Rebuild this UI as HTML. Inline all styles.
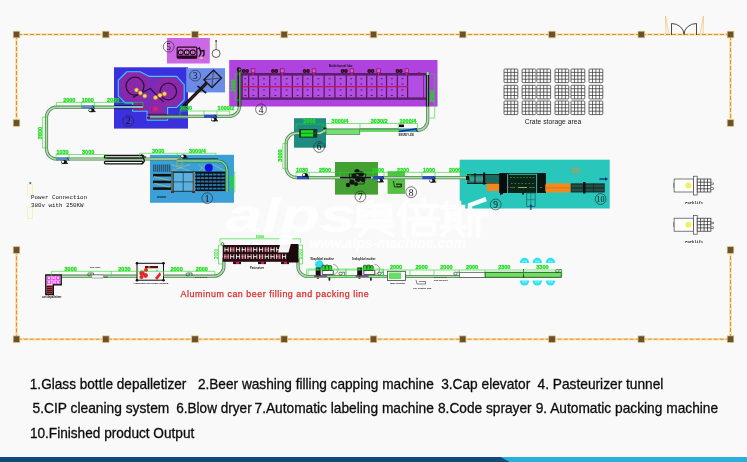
<!DOCTYPE html>
<html><head><meta charset="utf-8">
<style>
html,body{margin:0;padding:0;width:747px;height:462px;overflow:hidden;background:#f9f9f9;}
svg{position:absolute;left:0;top:0;will-change:transform;}
text{font-family:"Liberation Sans",sans-serif;}
.m{font-family:"Liberation Mono",monospace;}
</style></head><body>
<svg width="747" height="462" viewBox="0 0 747 462">
<rect x="0" y="0" width="747" height="462" fill="#f9f9f9"/>

<path d="M16.5,123 V34.5 H730.5 V123 M730.5,250 V339.2 H16.5 V250" fill="none" stroke="#fbe0a0" stroke-width="2.6"/>
<path d="M16.5,123 V34.5 H730.5 V123 M730.5,250 V339.2 H16.5 V250" fill="none" stroke="#c88848" stroke-width="0.9" stroke-dasharray="4 2"/>
<g fill="#6b5030" stroke="#e0c878" stroke-width="0.7">
<rect x="13.2" y="31.2" width="6.6" height="6.6"/>
<rect x="13.2" y="335.9" width="6.6" height="6.6"/>
<rect x="102.5" y="31.2" width="6.6" height="6.6"/>
<rect x="102.5" y="335.9" width="6.6" height="6.6"/>
<rect x="191.7" y="31.2" width="6.6" height="6.6"/>
<rect x="191.7" y="335.9" width="6.6" height="6.6"/>
<rect x="280.9" y="31.2" width="6.6" height="6.6"/>
<rect x="280.9" y="335.9" width="6.6" height="6.6"/>
<rect x="370.2" y="31.2" width="6.6" height="6.6"/>
<rect x="370.2" y="335.9" width="6.6" height="6.6"/>
<rect x="459.4" y="31.2" width="6.6" height="6.6"/>
<rect x="459.4" y="335.9" width="6.6" height="6.6"/>
<rect x="548.7" y="31.2" width="6.6" height="6.6"/>
<rect x="548.7" y="335.9" width="6.6" height="6.6"/>
<rect x="638.0" y="31.2" width="6.6" height="6.6"/>
<rect x="638.0" y="335.9" width="6.6" height="6.6"/>
<rect x="727.2" y="31.2" width="6.6" height="6.6"/>
<rect x="727.2" y="335.9" width="6.6" height="6.6"/>
<rect x="13.2" y="119.7" width="6.6" height="6.6"/>
<rect x="727.2" y="119.7" width="6.6" height="6.6"/>
<rect x="13.2" y="246.7" width="6.6" height="6.6"/>
<rect x="727.2" y="246.7" width="6.6" height="6.6"/>
</g>
<g fill="none" stroke-width="0.7">
<path d="M671.5,35 V23.5 A12.5,11 0 0 1 684,34.5 A12.5,11 0 0 1 696.5,23.5 V35" stroke="#333" stroke-width="0.9"/>
<path d="M666,34 L665.5,16 L669,34 M703,34 L703.5,16 L700,34" stroke="#f0c070"/>
</g>
<rect x="167" y="38" width="42.8" height="25.5" fill="#cc68e6"/>
<rect x="114" y="67.3" width="74" height="61.3" fill="#3b30de"/>
<rect x="186.2" y="68.2" width="38.8" height="24.2" fill="#6a8ce6"/>
<rect x="229.2" y="60" width="208.3" height="46.5" fill="#b042e0"/>
<rect x="150" y="154.8" width="84" height="48" fill="#3ca0d8"/>
<rect x="294" y="118.2" width="32" height="29.5" fill="#1e8c80"/>
<rect x="335" y="162" width="43" height="32.6" fill="#44a032"/>
<rect x="387.6" y="171.2" width="17.4" height="22.7" fill="#55c044"/>
<rect x="459.7" y="159.7" width="150" height="48.8" fill="#28c6bb"/>
<g>
<rect x="242" y="74.5" width="185.5" height="24" fill="#b24ee4"/>
<rect x="244.4" y="78.3" width="1.8" height="0.9" fill="#4a1050"/>
<rect x="244.4" y="83.6" width="1.8" height="0.9" fill="#4a1050"/>
<rect x="244.4" y="89.5" width="1.8" height="0.9" fill="#4a1050"/>
<rect x="244.4" y="95.0" width="1.8" height="0.9" fill="#4a1050"/>
<rect x="252.5" y="78.3" width="1.8" height="0.9" fill="#4a1050"/>
<rect x="252.5" y="83.6" width="1.8" height="0.9" fill="#4a1050"/>
<rect x="252.5" y="89.5" width="1.8" height="0.9" fill="#4a1050"/>
<rect x="252.5" y="95.0" width="1.8" height="0.9" fill="#4a1050"/>
<rect x="263.1" y="78.3" width="1.8" height="0.9" fill="#4a1050"/>
<rect x="263.1" y="83.6" width="1.8" height="0.9" fill="#4a1050"/>
<rect x="263.1" y="89.5" width="1.8" height="0.9" fill="#4a1050"/>
<rect x="263.1" y="95.0" width="1.8" height="0.9" fill="#4a1050"/>
<rect x="274.5" y="78.3" width="1.8" height="0.9" fill="#4a1050"/>
<rect x="274.5" y="83.6" width="1.8" height="0.9" fill="#4a1050"/>
<rect x="274.5" y="89.5" width="1.8" height="0.9" fill="#4a1050"/>
<rect x="274.5" y="95.0" width="1.8" height="0.9" fill="#4a1050"/>
<rect x="285.8" y="78.3" width="1.8" height="0.9" fill="#4a1050"/>
<rect x="285.8" y="83.6" width="1.8" height="0.9" fill="#4a1050"/>
<rect x="285.8" y="89.5" width="1.8" height="0.9" fill="#4a1050"/>
<rect x="285.8" y="95.0" width="1.8" height="0.9" fill="#4a1050"/>
<rect x="296.6" y="78.3" width="1.8" height="0.9" fill="#4a1050"/>
<rect x="296.6" y="83.6" width="1.8" height="0.9" fill="#4a1050"/>
<rect x="296.6" y="89.5" width="1.8" height="0.9" fill="#4a1050"/>
<rect x="296.6" y="95.0" width="1.8" height="0.9" fill="#4a1050"/>
<rect x="306.8" y="78.3" width="1.8" height="0.9" fill="#4a1050"/>
<rect x="306.8" y="83.6" width="1.8" height="0.9" fill="#4a1050"/>
<rect x="306.8" y="89.5" width="1.8" height="0.9" fill="#4a1050"/>
<rect x="306.8" y="95.0" width="1.8" height="0.9" fill="#4a1050"/>
<rect x="317.5" y="78.3" width="1.8" height="0.9" fill="#4a1050"/>
<rect x="317.5" y="83.6" width="1.8" height="0.9" fill="#4a1050"/>
<rect x="317.5" y="89.5" width="1.8" height="0.9" fill="#4a1050"/>
<rect x="317.5" y="95.0" width="1.8" height="0.9" fill="#4a1050"/>
<rect x="328.6" y="78.3" width="1.8" height="0.9" fill="#4a1050"/>
<rect x="328.6" y="83.6" width="1.8" height="0.9" fill="#4a1050"/>
<rect x="328.6" y="89.5" width="1.8" height="0.9" fill="#4a1050"/>
<rect x="328.6" y="95.0" width="1.8" height="0.9" fill="#4a1050"/>
<rect x="339.7" y="78.3" width="1.8" height="0.9" fill="#4a1050"/>
<rect x="339.7" y="83.6" width="1.8" height="0.9" fill="#4a1050"/>
<rect x="339.7" y="89.5" width="1.8" height="0.9" fill="#4a1050"/>
<rect x="339.7" y="95.0" width="1.8" height="0.9" fill="#4a1050"/>
<rect x="350.2" y="78.3" width="1.8" height="0.9" fill="#4a1050"/>
<rect x="350.2" y="83.6" width="1.8" height="0.9" fill="#4a1050"/>
<rect x="350.2" y="89.5" width="1.8" height="0.9" fill="#4a1050"/>
<rect x="350.2" y="95.0" width="1.8" height="0.9" fill="#4a1050"/>
<rect x="360.5" y="78.3" width="1.8" height="0.9" fill="#4a1050"/>
<rect x="360.5" y="83.6" width="1.8" height="0.9" fill="#4a1050"/>
<rect x="360.5" y="89.5" width="1.8" height="0.9" fill="#4a1050"/>
<rect x="360.5" y="95.0" width="1.8" height="0.9" fill="#4a1050"/>
<rect x="370.9" y="78.3" width="1.8" height="0.9" fill="#4a1050"/>
<rect x="370.9" y="83.6" width="1.8" height="0.9" fill="#4a1050"/>
<rect x="370.9" y="89.5" width="1.8" height="0.9" fill="#4a1050"/>
<rect x="370.9" y="95.0" width="1.8" height="0.9" fill="#4a1050"/>
<rect x="380.8" y="78.3" width="1.8" height="0.9" fill="#4a1050"/>
<rect x="380.8" y="83.6" width="1.8" height="0.9" fill="#4a1050"/>
<rect x="380.8" y="89.5" width="1.8" height="0.9" fill="#4a1050"/>
<rect x="380.8" y="95.0" width="1.8" height="0.9" fill="#4a1050"/>
<rect x="391.0" y="78.3" width="1.8" height="0.9" fill="#4a1050"/>
<rect x="391.0" y="83.6" width="1.8" height="0.9" fill="#4a1050"/>
<rect x="391.0" y="89.5" width="1.8" height="0.9" fill="#4a1050"/>
<rect x="391.0" y="95.0" width="1.8" height="0.9" fill="#4a1050"/>
<rect x="401.6" y="78.3" width="1.8" height="0.9" fill="#4a1050"/>
<rect x="401.6" y="83.6" width="1.8" height="0.9" fill="#4a1050"/>
<rect x="401.6" y="89.5" width="1.8" height="0.9" fill="#4a1050"/>
<rect x="401.6" y="95.0" width="1.8" height="0.9" fill="#4a1050"/>
<rect x="241.5" y="74" width="1.2" height="25" fill="#5a1452"/>
<rect x="248.0" y="74" width="1.2" height="25" fill="#5a1452"/>
<rect x="257.7" y="74" width="1.2" height="25" fill="#5a1452"/>
<rect x="269.1" y="74" width="1.2" height="25" fill="#5a1452"/>
<rect x="280.4" y="74" width="1.2" height="25" fill="#5a1452"/>
<rect x="291.8" y="74" width="1.2" height="25" fill="#5a1452"/>
<rect x="302.1" y="74" width="1.2" height="25" fill="#5a1452"/>
<rect x="312.1" y="74" width="1.2" height="25" fill="#5a1452"/>
<rect x="323.5" y="74" width="1.2" height="25" fill="#5a1452"/>
<rect x="334.3" y="74" width="1.2" height="25" fill="#5a1452"/>
<rect x="345.7" y="74" width="1.2" height="25" fill="#5a1452"/>
<rect x="355.4" y="74" width="1.2" height="25" fill="#5a1452"/>
<rect x="366.1" y="74" width="1.2" height="25" fill="#5a1452"/>
<rect x="376.2" y="74" width="1.2" height="25" fill="#5a1452"/>
<rect x="385.9" y="74" width="1.2" height="25" fill="#5a1452"/>
<rect x="396.7" y="74" width="1.2" height="25" fill="#5a1452"/>
<rect x="407.0" y="74" width="1.2" height="25" fill="#5a1452"/>
<rect x="423" y="74" width="0.6" height="25" fill="#5a1858"/>
<rect x="242" y="86" width="166" height="1.3" fill="#b81860"/>
<rect x="237.5" y="73" width="190.5" height="2.6" fill="#5c1e6c"/>
<rect x="237.5" y="97.4" width="190.5" height="2.4" fill="#5c1e6c"/>
<rect x="426.2" y="73.5" width="2" height="26" fill="#1a1a1a"/>
<circle cx="243.7" cy="71" r="1.9" fill="#2a0818"/><circle cx="247.1" cy="71" r="1.9" fill="#2a0818"/>
<circle cx="243.7" cy="71" r="0.6" fill="#b03060"/><circle cx="247.1" cy="71" r="0.6" fill="#b03060"/>
<rect x="251.3" y="68.8" width="3.6" height="4" fill="#d060c8" stroke="#8a1060" stroke-width="0.7"/>
<rect x="252.7" y="72.5" width="0.8" height="3" fill="#e0307a"/>
<circle cx="272.9" cy="71" r="1.9" fill="#2a0818"/><circle cx="276.3" cy="71" r="1.9" fill="#2a0818"/>
<circle cx="272.9" cy="71" r="0.6" fill="#b03060"/><circle cx="276.3" cy="71" r="0.6" fill="#b03060"/>
<rect x="280.5" y="68.8" width="3.6" height="4" fill="#d060c8" stroke="#8a1060" stroke-width="0.7"/>
<rect x="281.9" y="72.5" width="0.8" height="3" fill="#e0307a"/>
<circle cx="304.6" cy="71" r="1.9" fill="#2a0818"/><circle cx="308.0" cy="71" r="1.9" fill="#2a0818"/>
<circle cx="304.6" cy="71" r="0.6" fill="#b03060"/><circle cx="308.0" cy="71" r="0.6" fill="#b03060"/>
<rect x="312.2" y="68.8" width="3.6" height="4" fill="#d060c8" stroke="#8a1060" stroke-width="0.7"/>
<rect x="313.6" y="72.5" width="0.8" height="3" fill="#e0307a"/>
<circle cx="342.5" cy="71" r="1.9" fill="#2a0818"/><circle cx="345.9" cy="71" r="1.9" fill="#2a0818"/>
<circle cx="342.5" cy="71" r="0.6" fill="#b03060"/><circle cx="345.9" cy="71" r="0.6" fill="#b03060"/>
<rect x="350.1" y="68.8" width="3.6" height="4" fill="#d060c8" stroke="#8a1060" stroke-width="0.7"/>
<rect x="351.5" y="72.5" width="0.8" height="3" fill="#e0307a"/>
<circle cx="369.2" cy="71" r="1.9" fill="#2a0818"/><circle cx="372.6" cy="71" r="1.9" fill="#2a0818"/>
<circle cx="369.2" cy="71" r="0.6" fill="#b03060"/><circle cx="372.6" cy="71" r="0.6" fill="#b03060"/>
<rect x="376.8" y="68.8" width="3.6" height="4" fill="#d060c8" stroke="#8a1060" stroke-width="0.7"/>
<rect x="378.2" y="72.5" width="0.8" height="3" fill="#e0307a"/>
<circle cx="397.4" cy="71" r="1.9" fill="#2a0818"/><circle cx="400.8" cy="71" r="1.9" fill="#2a0818"/>
<circle cx="397.4" cy="71" r="0.6" fill="#b03060"/><circle cx="400.8" cy="71" r="0.6" fill="#b03060"/>
<rect x="405.0" y="68.8" width="3.6" height="4" fill="#d060c8" stroke="#8a1060" stroke-width="0.7"/>
<rect x="406.4" y="72.5" width="0.8" height="3" fill="#e0307a"/>
<ellipse cx="419" cy="73" rx="1.5" ry="0.8" fill="#8a1a40"/>
<text x="329" y="66.5" font-size="2.8" font-weight="bold" fill="#111">Bottle/tunnel lube</text>
</g>
<polygon points="118.3,80.2 126.7,71.8 140.3,71.8 149.4,76.4 176.7,76.4 184.2,84.7 184.2,99.9 176.7,107.5 167.6,107.5 167.6,120.3 147.1,120.3 147.1,111.2 132.7,111.2 132.7,102.9 125.2,102.9 118.3,96.1" fill="#7a2cb8" stroke="#38d0ff" stroke-width="1.1"/>
<g fill="none" stroke="#c81c70" stroke-width="0.9" opacity="0.9">
<circle cx="135" cy="86.2" r="4"/>
<circle cx="168.3" cy="91.5" r="4"/>
<circle cx="135" cy="86.2" r="7"/>
<circle cx="168.3" cy="91.5" r="7"/>
<circle cx="135" cy="86.2" r="10"/>
<circle cx="168.3" cy="91.5" r="10"/>
<circle cx="135" cy="86.2" r="13"/>
<circle cx="168.3" cy="91.5" r="13"/>
<circle cx="155.5" cy="109" r="3"/><circle cx="155.5" cy="109" r="6"/>
</g>
<circle cx="155.5" cy="109" r="2.2" fill="#e0206a"/>
<circle cx="135" cy="86.2" r="9" fill="none" stroke="#141450" stroke-width="1.2"/>
<circle cx="168.3" cy="91.5" r="8.3" fill="none" stroke="#141450" stroke-width="1.2"/>
<path d="M132.7,97.6 L150.2,88.5 L163.8,102.2" fill="none" stroke="#141450" stroke-width="1.1"/>
<g fill="#f0d870" stroke="#d07020" stroke-width="0.6">
<circle cx="136.5" cy="90.0" r="2.1"/>
<circle cx="140.3" cy="93.0" r="2.1"/>
<circle cx="144.8" cy="96.0" r="2.1"/>
<circle cx="155.5" cy="97.6" r="2.1"/>
<circle cx="160.0" cy="95.3" r="2.1"/>
<circle cx="164.5" cy="93.8" r="2.1"/>
</g>
<rect x="147" y="117" width="21" height="1.8" fill="#5a1a60"/>
<path d="M143,107.2 H56.5 A10,10 0 0 0 46.5,117.2 V149 A10,10 0 0 0 56.5,159 H178" fill="none" stroke="#4a844a" stroke-width="3.2"/>
<path d="M143,107.2 H56.5 A10,10 0 0 0 46.5,117.2 V149 A10,10 0 0 0 56.5,159 H178" fill="none" stroke="#b4dab4" stroke-width="1.6"/>
<path d="M150,116.4 H229.4 A10,10 0 0 0 239.4,106.4 V72" fill="none" stroke="#4a844a" stroke-width="3.2"/>
<path d="M150,116.4 H229.4 A10,10 0 0 0 239.4,106.4 V72" fill="none" stroke="#b4dab4" stroke-width="1.6"/>
<path d="M427.7,72 V120.3 A10,10 0 0 1 417.7,130.3 H326 L320,133.2 H296.2 A10,10 0 0 0 286.2,143.2 V167.6 A10,10 0 0 0 296.2,177.6 H500" fill="none" stroke="#4a844a" stroke-width="3.2"/>
<path d="M427.7,72 V120.3 A10,10 0 0 1 417.7,130.3 H326 L320,133.2 H296.2 A10,10 0 0 0 286.2,143.2 V167.6 A10,10 0 0 0 296.2,177.6 H500" fill="none" stroke="#b4dab4" stroke-width="1.6"/>
<path d="M61.5,276.2 H213.9 A10,10 0 0 0 223.9,266.2 V258" fill="none" stroke="#4a844a" stroke-width="3.2"/>
<path d="M61.5,276.2 H213.9 A10,10 0 0 0 223.9,266.2 V258" fill="none" stroke="#b4dab4" stroke-width="1.6"/>
<path d="M298,258 V266.5 A10,10 0 0 0 308,276.5 H485" fill="none" stroke="#4a844a" stroke-width="3.2"/>
<path d="M298,258 V266.5 A10,10 0 0 0 308,276.5 H485" fill="none" stroke="#b4dab4" stroke-width="1.6"/>
<path d="M239.4,69 V106.5" stroke="#142414" stroke-width="3.8"/>
<path d="M239.9,69 V106.5" stroke="#8ad08a" stroke-width="1.1"/>
<circle cx="239" cy="69.5" r="2.2" fill="#111"/><circle cx="239.6" cy="69.5" r="1" fill="#6a9a6a"/>
<path d="M427.5,75 V106.5" stroke="#142414" stroke-width="3.2"/>
<path d="M427.5,75 V106.5" stroke="#6a9a7a" stroke-width="1"/>
<rect x="114" y="105.3" width="29" height="3.6" fill="#8ab8c8"/>
<path d="M114,105.5 H133 M114,108.7 H133" stroke="#101860" stroke-width="1"/>
<path d="M133,105.5 H143 M133,108.7 H143" stroke="#6a1040" stroke-width="1"/>
<path d="M139,108.7 H144" stroke="#e01030" stroke-width="1.3"/>
<rect x="150" y="114.7" width="38" height="3.4" fill="#8ab8a8"/>
<path d="M150,115 H188" stroke="#101860" stroke-width="1"/>
<path d="M150,118 H188" stroke="#3a7a5a" stroke-width="0.9"/>
<path d="M147.5,114.5 H167" stroke="#5a1a60" stroke-width="1.5"/>
<rect x="485" y="272.3" width="76.3" height="5" fill="#70e060" stroke="#204a20" stroke-width="0.9"/>
<rect x="81.4" y="105.5" width="13.1" height="3.2" fill="#5a88c0"/>
<path d="M92.5,105.5 L94.5,108.7" stroke="#101850" stroke-width="0.8"/>
<g><ellipse cx="91.5" cy="110.3" rx="3" ry="2" fill="#111"/><ellipse cx="90.3" cy="110.1" rx="1.3" ry="1.2" fill="#f9f9f9"/><rect x="93.5" y="111.1" width="2" height="1" fill="#111"/></g>
<rect x="56.0" y="157.4" width="13.0" height="3.2" fill="#5a88c0"/>
<path d="M67.0,157.4 L69.0,160.6" stroke="#101850" stroke-width="0.8"/>
<g><ellipse cx="64.0" cy="162.0" rx="3" ry="2" fill="#111"/><ellipse cx="62.8" cy="161.8" rx="1.3" ry="1.2" fill="#f9f9f9"/><rect x="66.0" y="162.8" width="2" height="1" fill="#111"/></g>
<rect x="204.0" y="114.7" width="13.0" height="3.2" fill="#3050c0"/>
<path d="M215.0,114.7 L217.0,117.9" stroke="#101850" stroke-width="0.8"/>
<g><ellipse cx="214.0" cy="119.5" rx="3" ry="2" fill="#111"/><ellipse cx="212.8" cy="119.3" rx="1.3" ry="1.2" fill="#f9f9f9"/><rect x="216.0" y="120.3" width="2" height="1" fill="#111"/></g>
<rect x="398.4" y="128.6" width="19.2" height="3.4" fill="#3aa0a0"/>
<path d="M415.6,128.6 L417.6,132.0" stroke="#101850" stroke-width="0.8"/>
<path d="M399,131.5 L417,128.8" stroke="#1830a0" stroke-width="1.6"/>
<rect x="399" y="124.5" width="5" height="2.6" fill="#111"/>
<text x="398.5" y="135.8" font-size="2.6" font-weight="bold" fill="#111">SW-RDY-350</text>
<rect x="297.0" y="176.0" width="11.8" height="3.2" fill="#3050c0"/>
<path d="M306.8,176.0 L308.8,179.2" stroke="#101850" stroke-width="0.8"/>
<g><ellipse cx="305.0" cy="175.0" rx="3" ry="2" fill="#111"/><ellipse cx="303.8" cy="174.8" rx="1.3" ry="1.2" fill="#f9f9f9"/><rect x="307.0" y="175.8" width="2" height="1" fill="#111"/></g>
<rect x="372.8" y="176.0" width="11.2" height="3.2" fill="#2a50c0"/>
<path d="M382.0,176.0 L384.0,179.2" stroke="#101850" stroke-width="0.8"/>
<g><ellipse cx="380.0" cy="180.5" rx="3" ry="2" fill="#111"/><ellipse cx="378.8" cy="180.3" rx="1.3" ry="1.2" fill="#f9f9f9"/><rect x="382.0" y="181.3" width="2" height="1" fill="#111"/></g>
<rect x="422.3" y="176.0" width="13.2" height="3.2" fill="#3050c0"/>
<path d="M433.5,176.0 L435.5,179.2" stroke="#101850" stroke-width="0.8"/>
<g><ellipse cx="432.3" cy="180.7" rx="3" ry="2" fill="#111"/><ellipse cx="431.1" cy="180.5" rx="1.3" ry="1.2" fill="#f9f9f9"/><rect x="434.3" y="181.5" width="2" height="1" fill="#111"/></g>
<g><ellipse cx="183.5" cy="156.5" rx="3" ry="2" fill="#111"/><ellipse cx="182.3" cy="156.3" rx="1.3" ry="1.2" fill="#f9f9f9"/><rect x="185.5" y="157.3" width="2" height="1" fill="#111"/></g>
<rect x="104.4" y="155.5" width="38.5" height="2.5" rx="1.2" fill="#fff" stroke="#111" stroke-width="1.3"/>
<rect x="104.4" y="161.3" width="38.5" height="2.5" rx="1.2" fill="#fff" stroke="#111" stroke-width="1.3"/>
<path d="M141,155 Q145.5,155.5 143.5,158.8 Q146,161 141.5,164.2" fill="none" stroke="#111" stroke-width="1.3"/>
<circle cx="145.5" cy="157" r="0.7" fill="#111"/>
<rect x="299.1" y="129" width="18.2" height="8.7" fill="#0e3a30" />
<rect x="301" y="130.2" width="12.1" height="6.4" fill="#22dd22"/>
<rect x="301" y="132.8" width="15" height="0.8" fill="#117711"/>
<rect x="326" y="129" width="33.8" height="5.3" fill="#72e072" stroke="#2f6a2f" stroke-width="0.6"/>
<rect x="359.8" y="129" width="38.6" height="3" fill="#66dd66"/><path d="M359.8,128.9 H398.4" stroke="#2a5a2a" stroke-width="0.8"/>
<rect x="323" y="127.5" width="3.5" height="1.5" fill="#111"/>
<path d="M340,177.6 H371" stroke="#111" stroke-width="1.6"/>
<path d="M349,174 L366,174 L364,184 L351,184 Z" fill="none" stroke="#111" stroke-width="0.7"/>
<g fill="#111">
<circle cx="357.0" cy="171.5" r="2.6"/>
<circle cx="361.0" cy="174.0" r="2.8"/>
<circle cx="354.0" cy="176.0" r="2.6"/>
<circle cx="358.0" cy="179.0" r="3.0"/>
<circle cx="352.0" cy="182.0" r="2.6"/>
<circle cx="348.0" cy="185.0" r="2.2"/>
<circle cx="363.0" cy="180.0" r="2.2"/>
<circle cx="356.0" cy="184.0" r="2.0"/>
</g>
<path d="M393.5,181 L394.5,187 L401.5,187 V184 H396" fill="none" stroke="#111" stroke-width="0.8"/>
<rect x="397" y="184.5" width="3.5" height="2" fill="none" stroke="#111" stroke-width="0.5"/>
<rect x="153" y="164.5" width="18" height="7.3" fill="#3a90c0"/>
<rect x="153.5" y="164.5" width="0.6" height="7.3" fill="#123"/>
<rect x="155.5" y="164.5" width="0.6" height="7.3" fill="#123"/>
<rect x="157.5" y="164.5" width="0.6" height="7.3" fill="#123"/>
<rect x="159.5" y="164.5" width="0.6" height="7.3" fill="#123"/>
<rect x="161.5" y="164.5" width="0.6" height="7.3" fill="#123"/>
<rect x="163.5" y="164.5" width="0.6" height="7.3" fill="#123"/>
<rect x="165.5" y="164.5" width="0.6" height="7.3" fill="#123"/>
<rect x="167.5" y="164.5" width="0.6" height="7.3" fill="#123"/>
<rect x="169.5" y="164.5" width="0.6" height="7.3" fill="#123"/>
<rect x="153" y="173.9" width="18.2" height="2.6" fill="#111"/>
<rect x="153" y="180.6" width="18.2" height="2.6" fill="#111"/>
<rect x="153" y="187.3" width="18.2" height="2.6" fill="#111"/>
<path d="M154,176.5 L170,180.6 M154,183.2 L170,187.3" stroke="#d8d860" stroke-width="0.5"/>
<rect x="173.2" y="172.5" width="20.1" height="18.8" fill="#5ab0e0" stroke="#1a3a40" stroke-width="1"/>
<path d="M183.2,172.5 V191.3 M173.2,181.9 H193.3" stroke="#1a3a40" stroke-width="0.7"/>
<path d="M172,170.5 V192 M193.5,170.5 V192" stroke="#805020" stroke-width="1.1"/>
<rect x="171" y="191" width="3" height="2" fill="#702020"/><rect x="192" y="191" width="3" height="2" fill="#702020"/>
<rect x="195.3" y="171.8" width="30.2" height="18.8" fill="#2a78a8"/>
<rect x="195.3" y="172.0" width="30.2" height="1.6" fill="#0a0a10"/>
<rect x="195.3" y="175.5" width="30.2" height="1.6" fill="#0a0a10"/>
<rect x="195.3" y="179.0" width="30.2" height="1.6" fill="#0a0a10"/>
<rect x="195.3" y="182.5" width="30.2" height="1.6" fill="#0a0a10"/>
<rect x="195.3" y="186.0" width="30.2" height="1.6" fill="#0a0a10"/>
<rect x="195.3" y="189.5" width="30.2" height="1.6" fill="#0a0a10"/>
<rect x="196.0" y="171.8" width="0.7" height="18.8" fill="#0a1018"/>
<rect x="200.1" y="171.8" width="0.7" height="18.8" fill="#0a1018"/>
<rect x="204.2" y="171.8" width="0.7" height="18.8" fill="#0a1018"/>
<rect x="208.3" y="171.8" width="0.7" height="18.8" fill="#0a1018"/>
<rect x="212.4" y="171.8" width="0.7" height="18.8" fill="#0a1018"/>
<rect x="216.5" y="171.8" width="0.7" height="18.8" fill="#0a1018"/>
<rect x="220.6" y="171.8" width="0.7" height="18.8" fill="#0a1018"/>
<rect x="224.7" y="171.8" width="0.7" height="18.8" fill="#0a1018"/>
<path d="M226,172 V192" stroke="#2a8a3a" stroke-width="1.2"/>
<path d="M171,164.5 L190,171 M171,171 L190,164.5 M199,164.5 L205,171 M199,171 L205,164.5 M213,164.5 L225,171" stroke="#c8d070" stroke-width="0.5"/>
<path d="M171,171.5 H227" stroke="#1a3a40" stroke-width="0.6"/>
<path d="M177,158.6 H218" stroke="#1a3a2a" stroke-width="0.8"/>
<path d="M177,161 H218 A9,9 0 0 1 227,170 V192" fill="none" stroke="#2a7a4a" stroke-width="3"/>
<path d="M177,161 H218 A9,9 0 0 1 227,170 V192" fill="none" stroke="#8ad8a0" stroke-width="1.4"/>
<rect x="177" y="158.5" width="5" height="7.5" fill="none" stroke="#c0b050" stroke-width="0.7"/>
<circle cx="208.8" cy="167.8" r="4" fill="#1010e0"/>
<path d="M157,197 H166" stroke="#111" stroke-width="0.9"/>
<rect x="177.2" y="47.2" width="19.6" height="10.9" rx="1" fill="none" stroke="#2a0520" stroke-width="1.2"/>
<rect x="177.2" y="55.5" width="19.6" height="2.8" fill="#2a0520"/>
<circle cx="180.8" cy="52.3" r="2.4" fill="#e8b8e8" stroke="#1a0010" stroke-width="1.1"/>
<rect x="180.4" y="51" width="0.9" height="3" fill="#8a0a30"/>
<circle cx="186.8" cy="52.3" r="2.4" fill="#e8b8e8" stroke="#1a0010" stroke-width="1.1"/>
<rect x="186.4" y="51" width="0.9" height="3" fill="#8a0a30"/>
<circle cx="192.8" cy="52.3" r="2.4" fill="#e8b8e8" stroke="#1a0010" stroke-width="1.1"/>
<rect x="192.4" y="51" width="0.9" height="3" fill="#8a0a30"/>
<path d="M197.5,49 L199.5,48 L201,53 L199,57 M200,51 L204,50.5 L204,55 L201,58" fill="none" stroke="#111" stroke-width="1.3"/>
<rect x="199.5" y="56.5" width="3.5" height="2.5" fill="#f0a0a0"/>
<path d="M216.1,40.7 V49.5" stroke="#444" stroke-width="0.7"/><circle cx="216.1" cy="41" r="0.9" fill="#444"/>
<circle cx="216.1" cy="53.5" r="4" fill="none" stroke="#333" stroke-width="0.8"/>
<path d="M184.3,105.4 L213,76.7" stroke="#111" stroke-width="3.2" stroke-linecap="round"/>
<path d="M185.5,104.2 L212,77.7" stroke="#7a2a2a" stroke-width="0.8"/>
<g transform="translate(212.7,78.9) rotate(-45)"><rect x="-6.8" y="-5.6" width="13.6" height="11.2" fill="#6a8ce6" stroke="#111" stroke-width="1.3"/><path d="M-6.8,-5.6 L6.8,5.6 M-6.8,5.6 L6.8,-5.6" stroke="#222" stroke-width="0.6"/><path d="M-6.8,0 L6.8,0" stroke="#e05080" stroke-width="0.5"/></g>
<path d="M197.5,86 L206.2,93.2" stroke="#111" stroke-width="1.6"/>
<g fill="none" stroke="#222" stroke-width="0.6">
<circle cx="207.2" cy="198.2" r="5.4"/>
<circle cx="128.2" cy="121.0" r="5.4"/>
<circle cx="195.2" cy="75.6" r="5.4"/>
<circle cx="261.0" cy="109.3" r="5.4"/>
<circle cx="168.7" cy="46.7" r="5.4"/>
<circle cx="319.1" cy="147.0" r="5.4"/>
<circle cx="360.4" cy="196.5" r="5.4"/>
<circle cx="411.2" cy="192.2" r="5.4"/>
<circle cx="495.7" cy="204.5" r="5.4"/>
<circle cx="600.6" cy="199.0" r="5.4"/>
</g>
<g fill="#111" font-family="Liberation Serif,serif" text-anchor="middle">
<text x="207.2" y="201.5" font-size="9.5" style="font-family:'Liberation Serif',serif">1</text>
<text x="128.2" y="124.3" font-size="9.5" style="font-family:'Liberation Serif',serif">2</text>
<text x="195.2" y="78.9" font-size="9.5" style="font-family:'Liberation Serif',serif">3</text>
<text x="261.0" y="112.6" font-size="9.5" style="font-family:'Liberation Serif',serif">4</text>
<text x="168.7" y="50.0" font-size="9.5" style="font-family:'Liberation Serif',serif">5</text>
<text x="319.1" y="150.3" font-size="9.5" style="font-family:'Liberation Serif',serif">6</text>
<text x="360.4" y="199.8" font-size="9.5" style="font-family:'Liberation Serif',serif">7</text>
<text x="411.2" y="195.5" font-size="9.5" style="font-family:'Liberation Serif',serif">8</text>
<text x="495.7" y="207.8" font-size="9.5" style="font-family:'Liberation Serif',serif">9</text>
<text x="600.6" y="202.0" font-size="8.5" textLength="8" lengthAdjust="spacingAndGlyphs" style="font-family:'Liberation Serif',serif">10</text>
</g>
<rect x="467" y="174.5" width="35" height="9" fill="#1a6a60"/>
<rect x="470" y="176.5" width="14" height="5" fill="#3a9a90"/>
<path d="M467,174.5 H502 M467,183.5 H502" stroke="#111" stroke-width="0.9"/>
<rect x="466" y="176" width="3" height="4" fill="#111"/>
<rect x="474.5" y="173" width="1" height="11" fill="#111"/><rect x="483" y="172.5" width="2.2" height="12" fill="#111"/>
<rect x="486.6" y="183.5" width="12.4" height="7.5" fill="#f08a20"/>
<rect x="499.4" y="173.2" width="46.4" height="19.8" fill="#0c2418"/>
<rect x="499.4" y="173.2" width="9" height="19.8" fill="#080c0a"/>
<rect x="537" y="173.2" width="8.8" height="19.8" fill="#0a1410"/>
<rect x="509" y="174" width="28" height="1" fill="#2a9a8a"/>
<path d="M510,177.5 H535" stroke="#2a7a3a" stroke-width="0.9" stroke-dasharray="2 1.2"/>
<path d="M511,183.5 H534" stroke="#3a9a3a" stroke-width="0.8" stroke-dasharray="1.5 2"/>
<path d="M518,187.5 H527" stroke="#70c070" stroke-width="1"/><path d="M510,187.5 H515 M529,187.5 H535 M540,187.5 H545" stroke="#3a8a4a" stroke-width="0.8"/>
<rect x="507.2" y="174" width="0.9" height="19" fill="#50c0b0"/><rect x="536.2" y="174" width="0.9" height="19" fill="#50c0b0"/>
<circle cx="507.7" cy="187.2" r="0.9" fill="#d040e0"/>
<rect x="500" y="192.5" width="3" height="2.5" fill="#111"/><rect x="522" y="192.5" width="2" height="2" fill="#111"/>
<rect x="501" y="194.5" width="3" height="1" fill="#40d0e0"/>
<rect x="526.7" y="193.1" width="8.4" height="13.3" fill="none" stroke="#1a6a60" stroke-width="0.8"/>
<path d="M526.7,199.7 H535.1 M530.9,193.1 V206.4" stroke="#1a6a60" stroke-width="0.6"/>
<path d="M530.9,210 V205" stroke="#1a2a90" stroke-width="1.1"/><path d="M529.3,206.5 L530.9,204 L532.5,206.5 Z" fill="#1a2a90"/>
<rect x="542" y="184" width="3.3" height="8" fill="#111"/>
<rect x="545.3" y="183.3" width="25.4" height="9.2" rx="2" fill="#f08a20"/>
<path d="M546,187.9 H570" stroke="#c86010" stroke-width="0.5"/>
<rect x="570.7" y="183.3" width="34.1" height="9.2" fill="#1a3a34"/>
<path d="M572,186 H604 M572,190 H604" stroke="#3a8a7a" stroke-width="0.6"/>
<rect x="583" y="182" width="2.5" height="11.5" fill="#111"/><rect x="593" y="183.3" width="0.5" height="9.2" fill="#111"/>
<path d="M599.4,179 H606" stroke="#102080" stroke-width="1.2"/><path d="M605,177.3 L608,179 L605,180.7 Z" fill="#102080"/>
<ellipse cx="575.6" cy="170.3" rx="3.2" ry="2.3" fill="none" stroke="#e08a40" stroke-width="1.1"/>
<rect x="503.0" y="68.0" width="15.8" height="15.6" fill="#fdfdfd"/>
<g stroke="#3a3a3a" stroke-width="0.75" fill="none"><rect x="504.0" y="69.0" width="13.8" height="13.6" rx="0.8"/>
<path d="M507.4,69.0 V82.6 M504.0,72.4 H517.8"/>
<path d="M510.9,69.0 V82.6 M504.0,75.8 H517.8"/>
<path d="M514.4,69.0 V82.6 M504.0,79.2 H517.8"/>
</g>
<rect x="503.0" y="84.3" width="15.8" height="15.6" fill="#fdfdfd"/>
<g stroke="#3a3a3a" stroke-width="0.75" fill="none"><rect x="504.0" y="85.3" width="13.8" height="13.6" rx="0.8"/>
<path d="M507.4,85.3 V98.9 M504.0,88.7 H517.8"/>
<path d="M510.9,85.3 V98.9 M504.0,92.1 H517.8"/>
<path d="M514.4,85.3 V98.9 M504.0,95.5 H517.8"/>
</g>
<rect x="503.0" y="100.0" width="15.8" height="15.6" fill="#fdfdfd"/>
<g stroke="#3a3a3a" stroke-width="0.75" fill="none"><rect x="504.0" y="101.0" width="13.8" height="13.6" rx="0.8"/>
<path d="M507.4,101.0 V114.6 M504.0,104.4 H517.8"/>
<path d="M510.9,101.0 V114.6 M504.0,107.8 H517.8"/>
<path d="M514.4,101.0 V114.6 M504.0,111.2 H517.8"/>
</g>
<rect x="521.1" y="68.0" width="15.8" height="15.6" fill="#fdfdfd"/>
<g stroke="#3a3a3a" stroke-width="0.75" fill="none"><rect x="522.1" y="69.0" width="13.8" height="13.6" rx="0.8"/>
<path d="M525.6,69.0 V82.6 M522.1,72.4 H535.9"/>
<path d="M529.0,69.0 V82.6 M522.1,75.8 H535.9"/>
<path d="M532.5,69.0 V82.6 M522.1,79.2 H535.9"/>
</g>
<rect x="521.1" y="84.3" width="15.8" height="15.6" fill="#fdfdfd"/>
<g stroke="#3a3a3a" stroke-width="0.75" fill="none"><rect x="522.1" y="85.3" width="13.8" height="13.6" rx="0.8"/>
<path d="M525.6,85.3 V98.9 M522.1,88.7 H535.9"/>
<path d="M529.0,85.3 V98.9 M522.1,92.1 H535.9"/>
<path d="M532.5,85.3 V98.9 M522.1,95.5 H535.9"/>
</g>
<rect x="521.1" y="100.0" width="15.8" height="15.6" fill="#fdfdfd"/>
<g stroke="#3a3a3a" stroke-width="0.75" fill="none"><rect x="522.1" y="101.0" width="13.8" height="13.6" rx="0.8"/>
<path d="M525.6,101.0 V114.6 M522.1,104.4 H535.9"/>
<path d="M529.0,101.0 V114.6 M522.1,107.8 H535.9"/>
<path d="M532.5,101.0 V114.6 M522.1,111.2 H535.9"/>
</g>
<rect x="535.8" y="68.0" width="15.8" height="15.6" fill="#fdfdfd"/>
<g stroke="#3a3a3a" stroke-width="0.75" fill="none"><rect x="536.8" y="69.0" width="13.8" height="13.6" rx="0.8"/>
<path d="M540.2,69.0 V82.6 M536.8,72.4 H550.6"/>
<path d="M543.7,69.0 V82.6 M536.8,75.8 H550.6"/>
<path d="M547.1,69.0 V82.6 M536.8,79.2 H550.6"/>
</g>
<rect x="535.8" y="84.3" width="15.8" height="15.6" fill="#fdfdfd"/>
<g stroke="#3a3a3a" stroke-width="0.75" fill="none"><rect x="536.8" y="85.3" width="13.8" height="13.6" rx="0.8"/>
<path d="M540.2,85.3 V98.9 M536.8,88.7 H550.6"/>
<path d="M543.7,85.3 V98.9 M536.8,92.1 H550.6"/>
<path d="M547.1,85.3 V98.9 M536.8,95.5 H550.6"/>
</g>
<rect x="535.8" y="100.0" width="15.8" height="15.6" fill="#fdfdfd"/>
<g stroke="#3a3a3a" stroke-width="0.75" fill="none"><rect x="536.8" y="101.0" width="13.8" height="13.6" rx="0.8"/>
<path d="M540.2,101.0 V114.6 M536.8,104.4 H550.6"/>
<path d="M543.7,101.0 V114.6 M536.8,107.8 H550.6"/>
<path d="M547.1,101.0 V114.6 M536.8,111.2 H550.6"/>
</g>
<rect x="554.0" y="68.0" width="15.8" height="15.6" fill="#fdfdfd"/>
<g stroke="#3a3a3a" stroke-width="0.75" fill="none"><rect x="555.0" y="69.0" width="13.8" height="13.6" rx="0.8"/>
<path d="M558.5,69.0 V82.6 M555.0,72.4 H568.8"/>
<path d="M561.9,69.0 V82.6 M555.0,75.8 H568.8"/>
<path d="M565.4,69.0 V82.6 M555.0,79.2 H568.8"/>
</g>
<rect x="554.0" y="84.3" width="15.8" height="15.6" fill="#fdfdfd"/>
<g stroke="#3a3a3a" stroke-width="0.75" fill="none"><rect x="555.0" y="85.3" width="13.8" height="13.6" rx="0.8"/>
<path d="M558.5,85.3 V98.9 M555.0,88.7 H568.8"/>
<path d="M561.9,85.3 V98.9 M555.0,92.1 H568.8"/>
<path d="M565.4,85.3 V98.9 M555.0,95.5 H568.8"/>
</g>
<rect x="554.0" y="100.0" width="15.8" height="15.6" fill="#fdfdfd"/>
<g stroke="#3a3a3a" stroke-width="0.75" fill="none"><rect x="555.0" y="101.0" width="13.8" height="13.6" rx="0.8"/>
<path d="M558.5,101.0 V114.6 M555.0,104.4 H568.8"/>
<path d="M561.9,101.0 V114.6 M555.0,107.8 H568.8"/>
<path d="M565.4,101.0 V114.6 M555.0,111.2 H568.8"/>
</g>
<rect x="570.0" y="68.0" width="15.8" height="15.6" fill="#fdfdfd"/>
<g stroke="#3a3a3a" stroke-width="0.75" fill="none"><rect x="571.0" y="69.0" width="13.8" height="13.6" rx="0.8"/>
<path d="M574.5,69.0 V82.6 M571.0,72.4 H584.8"/>
<path d="M577.9,69.0 V82.6 M571.0,75.8 H584.8"/>
<path d="M581.4,69.0 V82.6 M571.0,79.2 H584.8"/>
</g>
<rect x="570.0" y="84.3" width="15.8" height="15.6" fill="#fdfdfd"/>
<g stroke="#3a3a3a" stroke-width="0.75" fill="none"><rect x="571.0" y="85.3" width="13.8" height="13.6" rx="0.8"/>
<path d="M574.5,85.3 V98.9 M571.0,88.7 H584.8"/>
<path d="M577.9,85.3 V98.9 M571.0,92.1 H584.8"/>
<path d="M581.4,85.3 V98.9 M571.0,95.5 H584.8"/>
</g>
<rect x="570.0" y="100.0" width="15.8" height="15.6" fill="#fdfdfd"/>
<g stroke="#3a3a3a" stroke-width="0.75" fill="none"><rect x="571.0" y="101.0" width="13.8" height="13.6" rx="0.8"/>
<path d="M574.5,101.0 V114.6 M571.0,104.4 H584.8"/>
<path d="M577.9,101.0 V114.6 M571.0,107.8 H584.8"/>
<path d="M581.4,101.0 V114.6 M571.0,111.2 H584.8"/>
</g>
<rect x="588.0" y="68.0" width="15.8" height="15.6" fill="#fdfdfd"/>
<g stroke="#3a3a3a" stroke-width="0.75" fill="none"><rect x="589.0" y="69.0" width="13.8" height="13.6" rx="0.8"/>
<path d="M592.5,69.0 V82.6 M589.0,72.4 H602.8"/>
<path d="M595.9,69.0 V82.6 M589.0,75.8 H602.8"/>
<path d="M599.4,69.0 V82.6 M589.0,79.2 H602.8"/>
</g>
<rect x="588.0" y="84.3" width="15.8" height="15.6" fill="#fdfdfd"/>
<g stroke="#3a3a3a" stroke-width="0.75" fill="none"><rect x="589.0" y="85.3" width="13.8" height="13.6" rx="0.8"/>
<path d="M592.5,85.3 V98.9 M589.0,88.7 H602.8"/>
<path d="M595.9,85.3 V98.9 M589.0,92.1 H602.8"/>
<path d="M599.4,85.3 V98.9 M589.0,95.5 H602.8"/>
</g>
<rect x="588.0" y="100.0" width="15.8" height="15.6" fill="#fdfdfd"/>
<g stroke="#3a3a3a" stroke-width="0.75" fill="none"><rect x="589.0" y="101.0" width="13.8" height="13.6" rx="0.8"/>
<path d="M592.5,101.0 V114.6 M589.0,104.4 H602.8"/>
<path d="M595.9,101.0 V114.6 M589.0,107.8 H602.8"/>
<path d="M599.4,101.0 V114.6 M589.0,111.2 H602.8"/>
</g>
<rect x="674.1" y="179.0" width="19.5" height="13" fill="#fdfdfd" stroke="#444" stroke-width="0.7"/>
<rect x="673" y="182.9" width="1.3" height="4.8" fill="#888"/>
<circle cx="688.4" cy="185.5" r="3" fill="#f2f060"/>
<rect x="693.6" y="176.2" width="3.6" height="18.8" fill="#fdfdfd" stroke="#444" stroke-width="0.7"/>
<g stroke="#222" stroke-width="0.7" fill="#fdfdfd"><rect x="697.2" y="179.0" width="13.7" height="13"/>
<path d="M700.6,179.0 V192.0"/>
<path d="M704.1,179.0 V192.0"/>
<path d="M707.5,179.0 V192.0"/>
<path d="M697.2,182.2 H710.9"/>
<path d="M697.2,185.5 H710.9"/>
<path d="M697.2,188.8 H710.9"/>
</g><g stroke="#444" stroke-width="0.6" fill="#fdfdfd"><rect x="710.9" y="183.0" width="2.6" height="1.6"/><rect x="710.9" y="187.7" width="2.6" height="1.6"/></g>
<text x="694.2" y="203.7" font-size="4.3" font-weight="bold" fill="#111" text-anchor="middle" textLength="18" lengthAdjust="spacingAndGlyphs" style="font-family:'Liberation Mono',monospace">Forklift</text>
<rect x="674.1" y="218.2" width="19.5" height="13" fill="#fdfdfd" stroke="#444" stroke-width="0.7"/>
<rect x="673" y="222.1" width="1.3" height="4.8" fill="#888"/>
<circle cx="688.4" cy="224.7" r="3" fill="#f2f060"/>
<rect x="693.6" y="215.4" width="3.6" height="18.8" fill="#fdfdfd" stroke="#444" stroke-width="0.7"/>
<g stroke="#222" stroke-width="0.7" fill="#fdfdfd"><rect x="697.2" y="218.2" width="13.7" height="13"/>
<path d="M700.6,218.2 V231.2"/>
<path d="M704.1,218.2 V231.2"/>
<path d="M707.5,218.2 V231.2"/>
<path d="M697.2,221.4 H710.9"/>
<path d="M697.2,224.7 H710.9"/>
<path d="M697.2,227.9 H710.9"/>
</g><g stroke="#444" stroke-width="0.6" fill="#fdfdfd"><rect x="710.9" y="222.2" width="2.6" height="1.6"/><rect x="710.9" y="226.9" width="2.6" height="1.6"/></g>
<text x="694.2" y="242.9" font-size="4.3" font-weight="bold" fill="#111" text-anchor="middle" textLength="18" lengthAdjust="spacingAndGlyphs" style="font-family:'Liberation Mono',monospace">Forklift</text>
<circle cx="30.3" cy="183" r="1.1" fill="#1a8a8a"/>
<rect x="27.7" y="184.6" width="4.9" height="10.4" fill="none" stroke="#f0f080" stroke-width="0.6"/>
<rect x="27.7" y="207.3" width="4.9" height="11.4" fill="none" stroke="#f0f080" stroke-width="0.6"/>
<text x="31" y="199.2" font-size="5.85" fill="#111" style="font-family:'Liberation Mono',monospace">Power Connection</text>
<text x="31" y="207.3" font-size="5.85" fill="#111" style="font-family:'Liberation Mono',monospace">380v with 250KW</text>
<path d="M45.8,275 H61.2 V284.8 H53.3 V294.5 H45.8 Z" fill="#f8e8f8" stroke="#111" stroke-width="1.4"/>
<g fill="#f050f0">
<rect x="47.0" y="276.2" width="4" height="3.8"/>
<rect x="51.5" y="276.2" width="4" height="3.8"/>
<rect x="56.0" y="276.2" width="4" height="3.8"/>
<rect x="47.0" y="280.4" width="4" height="3.8"/>
<rect x="51.5" y="280.4" width="4" height="3.8"/>
<rect x="56.0" y="280.4" width="4" height="3.8"/>
</g>
<g fill="#ffd8ff">
<rect x="48.0" y="277.2" width="2" height="1.8"/>
<rect x="52.5" y="277.2" width="2" height="1.8"/>
<rect x="57.0" y="277.2" width="2" height="1.8"/>
<rect x="48.0" y="281.4" width="2" height="1.8"/>
<rect x="52.5" y="281.4" width="2" height="1.8"/>
<rect x="57.0" y="281.4" width="2" height="1.8"/>
</g>
<rect x="46.5" y="285.5" width="6.2" height="8.5" fill="#4a1010"/>
<rect x="47" y="287.0" width="5" height="0.6" fill="#e06070"/>
<rect x="47" y="289.0" width="5" height="0.6" fill="#e06070"/>
<rect x="47" y="291.0" width="5" height="0.6" fill="#e06070"/>
<rect x="47" y="293.0" width="5" height="0.6" fill="#e06070"/>
<text x="42" y="298.3" font-size="2.6" font-weight="bold" fill="#111">can depalletizer</text>
<g fill="none" stroke="#222" stroke-width="0.6"><rect x="87.8" y="273.0" width="3.2" height="2.8" rx="1"/><path d="M91.0,273.0 h2.5 v3"/></g>
<g fill="none" stroke="#222" stroke-width="0.6"><rect x="186.3" y="273.0" width="3.2" height="2.8" rx="1"/><path d="M189.5,273.0 h2.5 v3"/></g>
<g fill="none" stroke="#222" stroke-width="0.6"><rect x="339.0" y="272.2" width="3.2" height="2.8" rx="1"/><path d="M342.2,272.2 h2.5 v3"/></g>
<g fill="none" stroke="#222" stroke-width="0.6"><rect x="377.8" y="272.2" width="3.2" height="2.8" rx="1"/><path d="M381.0,272.2 h2.5 v3"/></g>
<g fill="none" stroke="#222" stroke-width="0.6"><rect x="453.8" y="272.2" width="3.2" height="2.8" rx="1"/><path d="M457.0,272.2 h2.5 v3"/></g>
<g fill="none" stroke="#222" stroke-width="0.6"><rect x="555.7" y="269.5" width="3.2" height="2.8" rx="1"/><path d="M558.9,269.5 h2.5 v3"/></g>
<text x="90" y="268.3" font-size="2.4" font-weight="bold" fill="#111">can rinse</text>
<rect x="91.5" y="275" width="12" height="3" rx="1" fill="#fafafa" stroke="#555" stroke-width="0.5"/>
<path d="M104,277 H108" stroke="#111" stroke-width="0.6"/>
<path d="M195,277.5 H207" stroke="#333" stroke-width="0.8" stroke-dasharray="1 0.6"/>
<rect x="137" y="263.3" width="26.5" height="16.9" fill="#f4f4f4" stroke="#111" stroke-width="1"/>
<circle cx="137.0" cy="263.3" r="1.3" fill="#111"/>
<circle cx="163.5" cy="263.3" r="1.3" fill="#111"/>
<circle cx="137.0" cy="280.2" r="1.3" fill="#111"/>
<circle cx="163.5" cy="280.2" r="1.3" fill="#111"/>
<g fill="#e02828">
<circle cx="142" cy="273" r="2.6"/><circle cx="145.5" cy="275.5" r="2.4"/><circle cx="141.5" cy="277" r="2"/><circle cx="146" cy="270" r="2"/>
<path d="M155,278 L160,272 L161,275 L157,280 Z"/>
</g>
<rect x="145" y="266" width="13" height="2.2" fill="#5a1010"/>
<circle cx="149" cy="267" r="0.8" fill="#f0e040"/><circle cx="157" cy="270.5" r="0.8" fill="#30c0e0"/>
<text x="133.3" y="283.6" font-size="2.5" font-weight="bold" fill="#111">Aluminum can filling capping</text>
<rect x="222.7" y="245" width="75.7" height="16.8" fill="#2a0e12"/>
<rect x="287" y="244" width="11.4" height="18.5" fill="#1a0a0c"/>
<g fill="#f4eef0">
<rect x="224.5" y="247.3" width="0.9" height="4.6"/><rect x="227.7" y="247.3" width="0.9" height="4.6"/><rect x="224.5" y="249.2" width="3.6" height="0.9"/>
<rect x="230.2" y="247.3" width="0.9" height="4.6"/><rect x="233.4" y="247.3" width="0.9" height="4.6"/><rect x="230.2" y="249.2" width="3.6" height="0.9"/>
<rect x="236.0" y="247.3" width="0.9" height="4.6"/><rect x="239.2" y="247.3" width="0.9" height="4.6"/><rect x="236.0" y="249.2" width="3.6" height="0.9"/>
<rect x="241.8" y="247.3" width="0.9" height="4.6"/><rect x="244.9" y="247.3" width="0.9" height="4.6"/><rect x="241.8" y="249.2" width="3.6" height="0.9"/>
<rect x="247.5" y="247.3" width="0.9" height="4.6"/><rect x="250.7" y="247.3" width="0.9" height="4.6"/><rect x="247.5" y="249.2" width="3.6" height="0.9"/>
<rect x="253.2" y="247.3" width="0.9" height="4.6"/><rect x="256.4" y="247.3" width="0.9" height="4.6"/><rect x="253.2" y="249.2" width="3.6" height="0.9"/>
<rect x="259.0" y="247.3" width="0.9" height="4.6"/><rect x="262.2" y="247.3" width="0.9" height="4.6"/><rect x="259.0" y="249.2" width="3.6" height="0.9"/>
<rect x="264.8" y="247.3" width="0.9" height="4.6"/><rect x="267.9" y="247.3" width="0.9" height="4.6"/><rect x="264.8" y="249.2" width="3.6" height="0.9"/>
<rect x="270.5" y="247.3" width="0.9" height="4.6"/><rect x="273.7" y="247.3" width="0.9" height="4.6"/><rect x="270.5" y="249.2" width="3.6" height="0.9"/>
<rect x="276.2" y="247.3" width="0.9" height="4.6"/><rect x="279.4" y="247.3" width="0.9" height="4.6"/><rect x="276.2" y="249.2" width="3.6" height="0.9"/>
<rect x="282.0" y="247.3" width="0.9" height="4.6"/><rect x="285.2" y="247.3" width="0.9" height="4.6"/><rect x="282.0" y="249.2" width="3.6" height="0.9"/>
<rect x="224.5" y="254.3" width="0.9" height="4.6"/><rect x="227.7" y="254.3" width="0.9" height="4.6"/><rect x="224.5" y="256.2" width="3.6" height="0.9"/>
<rect x="230.2" y="254.3" width="0.9" height="4.6"/><rect x="233.4" y="254.3" width="0.9" height="4.6"/><rect x="230.2" y="256.2" width="3.6" height="0.9"/>
<rect x="236.0" y="254.3" width="0.9" height="4.6"/><rect x="239.2" y="254.3" width="0.9" height="4.6"/><rect x="236.0" y="256.2" width="3.6" height="0.9"/>
<rect x="241.8" y="254.3" width="0.9" height="4.6"/><rect x="244.9" y="254.3" width="0.9" height="4.6"/><rect x="241.8" y="256.2" width="3.6" height="0.9"/>
<rect x="247.5" y="254.3" width="0.9" height="4.6"/><rect x="250.7" y="254.3" width="0.9" height="4.6"/><rect x="247.5" y="256.2" width="3.6" height="0.9"/>
<rect x="253.2" y="254.3" width="0.9" height="4.6"/><rect x="256.4" y="254.3" width="0.9" height="4.6"/><rect x="253.2" y="256.2" width="3.6" height="0.9"/>
<rect x="259.0" y="254.3" width="0.9" height="4.6"/><rect x="262.2" y="254.3" width="0.9" height="4.6"/><rect x="259.0" y="256.2" width="3.6" height="0.9"/>
<rect x="264.8" y="254.3" width="0.9" height="4.6"/><rect x="267.9" y="254.3" width="0.9" height="4.6"/><rect x="264.8" y="256.2" width="3.6" height="0.9"/>
<rect x="270.5" y="254.3" width="0.9" height="4.6"/><rect x="273.7" y="254.3" width="0.9" height="4.6"/><rect x="270.5" y="256.2" width="3.6" height="0.9"/>
<rect x="276.2" y="254.3" width="0.9" height="4.6"/><rect x="279.4" y="254.3" width="0.9" height="4.6"/><rect x="276.2" y="256.2" width="3.6" height="0.9"/>
<rect x="282.0" y="254.3" width="0.9" height="4.6"/><rect x="285.2" y="254.3" width="0.9" height="4.6"/><rect x="282.0" y="256.2" width="3.6" height="0.9"/>
</g>
<g fill="#c03050" opacity="0.8">
<rect x="231.2" y="247.3" width="2.3" height="4.6"/>
<rect x="248.4" y="247.3" width="2.3" height="4.6"/>
<rect x="265.6" y="247.3" width="2.3" height="4.6"/>
<rect x="282.9" y="247.3" width="2.3" height="4.6"/>
<rect x="225.4" y="254.3" width="2.3" height="4.6"/>
<rect x="242.7" y="254.3" width="2.3" height="4.6"/>
<rect x="259.9" y="254.3" width="2.3" height="4.6"/>
<rect x="277.1" y="254.3" width="2.3" height="4.6"/>
</g>
<rect x="233.0" y="261.5" width="8" height="2.6" fill="#3a0a18"/><rect x="236.0" y="262" width="3" height="1.8" fill="#d02a80"/>
<rect x="258.0" y="261.5" width="8" height="2.6" fill="#3a0a18"/><rect x="261.0" y="262" width="3" height="1.8" fill="#d02a80"/>
<rect x="281.0" y="261.5" width="8" height="2.6" fill="#3a0a18"/><rect x="284.0" y="262" width="3" height="1.8" fill="#d02a80"/>
<circle cx="222.5" cy="244" r="1.4" fill="none" stroke="#2a6a2a" stroke-width="0.8"/>
<text x="250" y="268.8" font-size="2.6" font-weight="bold" fill="#111">Pasteurizer</text>
<circle cx="319.3" cy="264.4" r="4.2" fill="#30dcf0"/>
<rect x="314.1" y="275.1" width="13" height="2" fill="#a038b8"/>
<path d="M315.7,267.5 h5 v8 h-5 z" fill="#111"/>
<rect x="316.6" y="268.5" width="2" height="2" fill="#2a8a2a"/>
<rect x="316.9" y="276" width="2" height="3" fill="#6a4a20"/>
<g fill="#22dd22" stroke="#111" stroke-width="0.6"><rect x="321.9" y="265.2" width="3.2" height="5.5" rx="1"/><rect x="325.4" y="265" width="3.2" height="5.5" rx="1"/><rect x="328.7" y="265.5" width="3" height="5" rx="1"/></g>
<path d="M322.3,270.5 h11 v4 h-11 z" fill="none" stroke="#111" stroke-width="0.7"/>
<path d="M333.1,264.5 a5,5 0 0 1 0,10" fill="none" stroke="#444" stroke-width="0.5"/>
<rect x="328.6" y="277" width="1.6" height="3.6" fill="#111"/>
<text x="310.5" y="259.8" font-size="2.7" font-weight="bold" fill="#111" textLength="23.5" lengthAdjust="spacingAndGlyphs">Wrap/label machine</text>
<rect x="355.6" y="275.1" width="13" height="2" fill="#a038b8"/>
<path d="M357.2,267.5 h5 v8 h-5 z" fill="#111"/>
<rect x="358.1" y="268.5" width="2" height="2" fill="#2a8a2a"/>
<rect x="358.4" y="276" width="2" height="3" fill="#6a4a20"/>
<g fill="#22dd22" stroke="#111" stroke-width="0.6"><rect x="363.4" y="265.2" width="3.2" height="5.5" rx="1"/><rect x="366.9" y="265" width="3.2" height="5.5" rx="1"/><rect x="370.2" y="265.5" width="3" height="5" rx="1"/></g>
<path d="M363.8,270.5 h11 v4 h-11 z" fill="none" stroke="#111" stroke-width="0.7"/>
<path d="M374.6,264.5 a5,5 0 0 1 0,10" fill="none" stroke="#444" stroke-width="0.5"/>
<rect x="370.1" y="277" width="1.6" height="3.6" fill="#111"/>
<text x="352.0" y="259.8" font-size="2.7" font-weight="bold" fill="#111" textLength="23.5" lengthAdjust="spacingAndGlyphs">Sealing/label machine</text>
<rect x="306.7" y="269" width="39.3" height="8.5" fill="none" stroke="#44dd44" stroke-width="0.6"/>
<rect x="346" y="269" width="37.7" height="8.5" fill="none" stroke="#44dd44" stroke-width="0.6"/>
<rect x="387.4" y="271.3" width="18" height="9.1" fill="#f9f9f9" stroke="#444" stroke-width="0.8"/>
<rect x="389" y="272.6" width="12" height="6.5" fill="#66dd66"/>
<text x="390" y="284.3" font-size="2.5" font-weight="bold" fill="#111">Inkjet printer</text>
<path d="M416,279.8 L417,284 L425.5,284 V281.5 H419" fill="none" stroke="#333" stroke-width="0.6"/>
<text x="413" y="289" font-size="2.5" font-weight="bold" fill="#111">CIP control box</text>
<text x="434" y="280.8" font-size="2.4" font-weight="bold" fill="#111">can checker</text>
<path d="M434,277.5 H447" stroke="#333" stroke-width="0.7" stroke-dasharray="1 0.6"/>
<g transform="translate(524.5,259.8) scale(1,1)"><path d="M-4.6,2.6 A4.6,4.6 0 0 1 4.6,2.6 Z" fill="#28e4f4"/><path d="M-2.4,2.6 A2.4,2.2 0 0 1 2.4,2.6 Z" fill="#a8f2f8"/><path d="M-4.6,2.6 H4.6" stroke="#28e4f4" stroke-width="0.9"/><circle cx="0" cy="1.2" r="0.8" fill="#28e4f4"/></g>
<g transform="translate(524.5,283.6) scale(1,-1)"><path d="M-4.6,2.6 A4.6,4.6 0 0 1 4.6,2.6 Z" fill="#28e4f4"/><path d="M-2.4,2.6 A2.4,2.2 0 0 1 2.4,2.6 Z" fill="#a8f2f8"/><path d="M-4.6,2.6 H4.6" stroke="#28e4f4" stroke-width="0.9"/><circle cx="0" cy="1.2" r="0.8" fill="#28e4f4"/></g>
<g transform="translate(537.3,259.8) scale(1,1)"><path d="M-4.6,2.6 A4.6,4.6 0 0 1 4.6,2.6 Z" fill="#28e4f4"/><path d="M-2.4,2.6 A2.4,2.2 0 0 1 2.4,2.6 Z" fill="#a8f2f8"/><path d="M-4.6,2.6 H4.6" stroke="#28e4f4" stroke-width="0.9"/><circle cx="0" cy="1.2" r="0.8" fill="#28e4f4"/></g>
<g transform="translate(537.3,283.6) scale(1,-1)"><path d="M-4.6,2.6 A4.6,4.6 0 0 1 4.6,2.6 Z" fill="#28e4f4"/><path d="M-2.4,2.6 A2.4,2.2 0 0 1 2.4,2.6 Z" fill="#a8f2f8"/><path d="M-4.6,2.6 H4.6" stroke="#28e4f4" stroke-width="0.9"/><circle cx="0" cy="1.2" r="0.8" fill="#28e4f4"/></g>
<g transform="translate(550.5,259.8) scale(1,1)"><path d="M-4.6,2.6 A4.6,4.6 0 0 1 4.6,2.6 Z" fill="#28e4f4"/><path d="M-2.4,2.6 A2.4,2.2 0 0 1 2.4,2.6 Z" fill="#a8f2f8"/><path d="M-4.6,2.6 H4.6" stroke="#28e4f4" stroke-width="0.9"/><circle cx="0" cy="1.2" r="0.8" fill="#28e4f4"/></g>
<g transform="translate(550.5,283.6) scale(1,-1)"><path d="M-4.6,2.6 A4.6,4.6 0 0 1 4.6,2.6 Z" fill="#28e4f4"/><path d="M-2.4,2.6 A2.4,2.2 0 0 1 2.4,2.6 Z" fill="#a8f2f8"/><path d="M-4.6,2.6 H4.6" stroke="#28e4f4" stroke-width="0.9"/><circle cx="0" cy="1.2" r="0.8" fill="#28e4f4"/></g>
<path d="M523.5,269 V277.6" stroke="#111" stroke-width="0.8"/>
<rect x="459.3" y="272.5" width="25.7" height="5" fill="#fbfbfb" stroke="#333" stroke-width="0.6"/>
<path d="M56.4,102.4 H143.0" stroke="#22dc22" stroke-width="0.6" fill="none"/>
<path d="M56.4,102.4 V107.4" stroke="#22dc22" stroke-width="0.6" fill="none"/>
<path d="M81.4,102.4 V107.4" stroke="#22dc22" stroke-width="0.6" fill="none"/>
<path d="M94.5,102.4 V107.4" stroke="#22dc22" stroke-width="0.6" fill="none"/>
<path d="M143.0,102.4 V107.4" stroke="#22dc22" stroke-width="0.6" fill="none"/>
<text x="69.3" y="101.8" font-size="5.5" font-weight="bold" fill="#22dc22" stroke="#22dc22" stroke-width="0.30" text-anchor="middle">2000</text>
<text x="87.8" y="101.8" font-size="5.5" font-weight="bold" fill="#22dc22" stroke="#22dc22" stroke-width="0.30" text-anchor="middle">1000</text>
<text x="113.2" y="101.8" font-size="5.5" font-weight="bold" fill="#22dc22" stroke="#22dc22" stroke-width="0.30" text-anchor="middle">2030</text>
<path d="M42.6,117.0 V148.0" stroke="#22dc22" stroke-width="0.6" fill="none"/>
<path d="M42.6,117.0 H47.6" stroke="#22dc22" stroke-width="0.6" fill="none"/>
<path d="M42.6,148.0 H47.6" stroke="#22dc22" stroke-width="0.6" fill="none"/>
<text x="0" y="0" font-size="5.5" font-weight="bold" fill="#22dc22" stroke="#22dc22" stroke-width="0.30" text-anchor="middle" transform="translate(42.0,133.0) rotate(-90)">3600</text>
<path d="M56.0,154.5 H106.0" stroke="#22dc22" stroke-width="0.6" fill="none"/>
<path d="M56.0,154.5 V159.5" stroke="#22dc22" stroke-width="0.6" fill="none"/>
<path d="M69.0,154.5 V159.5" stroke="#22dc22" stroke-width="0.6" fill="none"/>
<path d="M106.0,154.5 V159.5" stroke="#22dc22" stroke-width="0.6" fill="none"/>
<text x="62.5" y="153.9" font-size="5.5" font-weight="bold" fill="#22dc22" stroke="#22dc22" stroke-width="0.30" text-anchor="middle">1030</text>
<text x="88.2" y="153.9" font-size="5.5" font-weight="bold" fill="#22dc22" stroke="#22dc22" stroke-width="0.30" text-anchor="middle">3000</text>
<path d="M139.6,153.3 H216.0" stroke="#22dc22" stroke-width="0.6" fill="none"/>
<path d="M139.6,153.3 V158.3" stroke="#22dc22" stroke-width="0.6" fill="none"/>
<path d="M177.3,153.3 V158.3" stroke="#22dc22" stroke-width="0.6" fill="none"/>
<path d="M216.0,153.3 V158.3" stroke="#22dc22" stroke-width="0.6" fill="none"/>
<text x="158.2" y="152.7" font-size="5.5" font-weight="bold" fill="#22dc22" stroke="#22dc22" stroke-width="0.30" text-anchor="middle">3000</text>
<text x="197.4" y="152.7" font-size="5.5" font-weight="bold" fill="#22dc22" stroke="#22dc22" stroke-width="0.30" text-anchor="middle">3000/4</text>
<path d="M234.8,172.0 V192.0" stroke="#22dc22" stroke-width="0.6" fill="none"/>
<path d="M234.8,172.0 H229.8" stroke="#22dc22" stroke-width="0.6" fill="none"/>
<path d="M234.8,192.0 H229.8" stroke="#22dc22" stroke-width="0.6" fill="none"/>
<text x="0" y="0" font-size="5.5" font-weight="bold" fill="#22dc22" stroke="#22dc22" stroke-width="0.30" text-anchor="middle" transform="translate(234.2,182.0) rotate(-90)">2000</text>
<path d="M180.0,111.0 H229.8" stroke="#22dc22" stroke-width="0.6" fill="none"/>
<path d="M180.0,111.0 V116.0" stroke="#22dc22" stroke-width="0.6" fill="none"/>
<path d="M204.0,111.0 V116.0" stroke="#22dc22" stroke-width="0.6" fill="none"/>
<path d="M217.0,111.0 V116.0" stroke="#22dc22" stroke-width="0.6" fill="none"/>
<path d="M229.8,111.0 V116.0" stroke="#22dc22" stroke-width="0.6" fill="none"/>
<text x="185.9" y="110.4" font-size="5.5" font-weight="bold" fill="#22dc22" stroke="#22dc22" stroke-width="0.30" text-anchor="middle">2030</text>
<text x="226.0" y="110.4" font-size="5.5" font-weight="bold" fill="#22dc22" stroke="#22dc22" stroke-width="0.30" text-anchor="middle">1000/2</text>
<path d="M235.2,74.0 V100.0" stroke="#22dc22" stroke-width="0.6" fill="none"/>
<path d="M235.2,74.0 H240.2" stroke="#22dc22" stroke-width="0.6" fill="none"/>
<path d="M235.2,100.0 H240.2" stroke="#22dc22" stroke-width="0.6" fill="none"/>
<text x="0" y="0" font-size="5.5" font-weight="bold" fill="#22dc22" stroke="#22dc22" stroke-width="0.30" text-anchor="middle" transform="translate(234.6,85.5) rotate(-90)">2000</text>
<path d="M434.7,74.0 V118.0" stroke="#22dc22" stroke-width="0.6" fill="none"/>
<path d="M434.7,74.0 H429.7" stroke="#22dc22" stroke-width="0.6" fill="none"/>
<path d="M434.7,118.0 H429.7" stroke="#22dc22" stroke-width="0.6" fill="none"/>
<text x="0" y="0" font-size="5.5" font-weight="bold" fill="#22dc22" stroke="#22dc22" stroke-width="0.30" text-anchor="middle" transform="translate(434.1,96.0) rotate(-90)">2000</text>
<path d="M326.0,123.5 H417.5" stroke="#22dc22" stroke-width="0.6" fill="none"/>
<path d="M326.0,123.5 V128.5" stroke="#22dc22" stroke-width="0.6" fill="none"/>
<path d="M360.0,123.5 V128.5" stroke="#22dc22" stroke-width="0.6" fill="none"/>
<path d="M398.3,123.5 V128.5" stroke="#22dc22" stroke-width="0.6" fill="none"/>
<path d="M417.5,123.5 V128.5" stroke="#22dc22" stroke-width="0.6" fill="none"/>
<text x="340.0" y="122.9" font-size="5.5" font-weight="bold" fill="#22dc22" stroke="#22dc22" stroke-width="0.30" text-anchor="middle">3000/4</text>
<text x="379.2" y="122.9" font-size="5.5" font-weight="bold" fill="#22dc22" stroke="#22dc22" stroke-width="0.30" text-anchor="middle">3030/2</text>
<text x="407.9" y="122.9" font-size="5.5" font-weight="bold" fill="#22dc22" stroke="#22dc22" stroke-width="0.30" text-anchor="middle">1000/4</text>
<path d="M296.0,124.0 H323.0" stroke="#22dc22" stroke-width="0.6" fill="none"/>
<path d="M296.0,124.0 V129.0" stroke="#22dc22" stroke-width="0.6" fill="none"/>
<path d="M323.0,124.0 V129.0" stroke="#22dc22" stroke-width="0.6" fill="none"/>
<text x="309.4" y="123.4" font-size="5.5" font-weight="bold" fill="#22dc22" stroke="#22dc22" stroke-width="0.30" text-anchor="middle">2000</text>
<path d="M282.8,143.4 V168.4" stroke="#22dc22" stroke-width="0.6" fill="none"/>
<path d="M282.8,143.4 H287.8" stroke="#22dc22" stroke-width="0.6" fill="none"/>
<path d="M282.8,168.4 H287.8" stroke="#22dc22" stroke-width="0.6" fill="none"/>
<text x="0" y="0" font-size="5.5" font-weight="bold" fill="#22dc22" stroke="#22dc22" stroke-width="0.30" text-anchor="middle" transform="translate(282.2,155.5) rotate(-90)">3000</text>
<path d="M296.0,172.4 H470.0" stroke="#22dc22" stroke-width="0.6" fill="none"/>
<path d="M296.0,172.4 V177.4" stroke="#22dc22" stroke-width="0.6" fill="none"/>
<path d="M309.0,172.4 V177.4" stroke="#22dc22" stroke-width="0.6" fill="none"/>
<path d="M340.0,172.4 V177.4" stroke="#22dc22" stroke-width="0.6" fill="none"/>
<path d="M373.0,172.4 V177.4" stroke="#22dc22" stroke-width="0.6" fill="none"/>
<path d="M384.0,172.4 V177.4" stroke="#22dc22" stroke-width="0.6" fill="none"/>
<path d="M422.0,172.4 V177.4" stroke="#22dc22" stroke-width="0.6" fill="none"/>
<path d="M435.0,172.4 V177.4" stroke="#22dc22" stroke-width="0.6" fill="none"/>
<path d="M470.0,172.4 V177.4" stroke="#22dc22" stroke-width="0.6" fill="none"/>
<text x="302.0" y="171.8" font-size="5.5" font-weight="bold" fill="#22dc22" stroke="#22dc22" stroke-width="0.30" text-anchor="middle">1030</text>
<text x="325.0" y="171.8" font-size="5.5" font-weight="bold" fill="#22dc22" stroke="#22dc22" stroke-width="0.30" text-anchor="middle">2500</text>
<text x="378.0" y="171.8" font-size="5.5" font-weight="bold" fill="#22dc22" stroke="#22dc22" stroke-width="0.30" text-anchor="middle">1000</text>
<text x="403.0" y="171.8" font-size="5.5" font-weight="bold" fill="#22dc22" stroke="#22dc22" stroke-width="0.30" text-anchor="middle">2200</text>
<text x="429.0" y="171.8" font-size="5.5" font-weight="bold" fill="#22dc22" stroke="#22dc22" stroke-width="0.30" text-anchor="middle">1000</text>
<text x="455.0" y="171.8" font-size="5.5" font-weight="bold" fill="#22dc22" stroke="#22dc22" stroke-width="0.30" text-anchor="middle">2000</text>
<path d="M51.5,271.3 H214.9" stroke="#22dc22" stroke-width="0.6" fill="none"/>
<path d="M51.5,271.3 V276.3" stroke="#22dc22" stroke-width="0.6" fill="none"/>
<path d="M90.3,271.3 V276.3" stroke="#22dc22" stroke-width="0.6" fill="none"/>
<path d="M111.3,271.3 V276.3" stroke="#22dc22" stroke-width="0.6" fill="none"/>
<path d="M137.0,271.3 V276.3" stroke="#22dc22" stroke-width="0.6" fill="none"/>
<path d="M163.5,271.3 V276.3" stroke="#22dc22" stroke-width="0.6" fill="none"/>
<path d="M188.8,271.3 V276.3" stroke="#22dc22" stroke-width="0.6" fill="none"/>
<path d="M214.9,271.3 V276.3" stroke="#22dc22" stroke-width="0.6" fill="none"/>
<text x="70.7" y="270.7" font-size="5.5" font-weight="bold" fill="#22dc22" stroke="#22dc22" stroke-width="0.30" text-anchor="middle">3000</text>
<text x="124.4" y="270.7" font-size="5.5" font-weight="bold" fill="#22dc22" stroke="#22dc22" stroke-width="0.30" text-anchor="middle">2030</text>
<text x="176.6" y="270.7" font-size="5.5" font-weight="bold" fill="#22dc22" stroke="#22dc22" stroke-width="0.30" text-anchor="middle">2000</text>
<text x="201.8" y="270.7" font-size="5.5" font-weight="bold" fill="#22dc22" stroke="#22dc22" stroke-width="0.30" text-anchor="middle">2000</text>
<path d="M218.5,245.0 V264.0" stroke="#22dc22" stroke-width="0.6" fill="none"/>
<path d="M218.5,245.0 H223.5" stroke="#22dc22" stroke-width="0.6" fill="none"/>
<path d="M218.5,264.0 H223.5" stroke="#22dc22" stroke-width="0.6" fill="none"/>
<text x="0" y="0" font-size="4.6" font-weight="bold" fill="#22dc22" stroke="#22dc22" stroke-width="0.00" text-anchor="middle" transform="translate(217.9,254.0) rotate(-90)">2000</text>
<path d="M220.0,238.8 H300.4" stroke="#22dc22" stroke-width="0.6" fill="none"/>
<path d="M220.0,238.8 V242.8" stroke="#22dc22" stroke-width="0.6" fill="none"/>
<path d="M300.4,238.8 V242.8" stroke="#22dc22" stroke-width="0.6" fill="none"/>
<text x="260.0" y="238.2" font-size="3.8" font-weight="bold" fill="#22dc22" stroke="#22dc22" stroke-width="0.00" text-anchor="middle">5000</text>
<path d="M302.5,245.0 V264.0" stroke="#22dc22" stroke-width="0.6" fill="none"/>
<path d="M302.5,245.0 H297.5" stroke="#22dc22" stroke-width="0.6" fill="none"/>
<path d="M302.5,264.0 H297.5" stroke="#22dc22" stroke-width="0.6" fill="none"/>
<text x="0" y="0" font-size="4.6" font-weight="bold" fill="#22dc22" stroke="#22dc22" stroke-width="0.00" text-anchor="middle" transform="translate(301.9,254.0) rotate(-90)">2000</text>
<path d="M308.0,270.0 H561.7" stroke="#22dc22" stroke-width="0.6" fill="none"/>
<path d="M308.0,270.0 V275.0" stroke="#22dc22" stroke-width="0.6" fill="none"/>
<path d="M383.0,270.0 V275.0" stroke="#22dc22" stroke-width="0.6" fill="none"/>
<path d="M410.0,270.0 V275.0" stroke="#22dc22" stroke-width="0.6" fill="none"/>
<path d="M434.0,270.0 V275.0" stroke="#22dc22" stroke-width="0.6" fill="none"/>
<path d="M459.3,270.0 V275.0" stroke="#22dc22" stroke-width="0.6" fill="none"/>
<path d="M485.0,270.0 V275.0" stroke="#22dc22" stroke-width="0.6" fill="none"/>
<path d="M523.5,270.0 V275.0" stroke="#22dc22" stroke-width="0.6" fill="none"/>
<path d="M561.7,270.0 V275.0" stroke="#22dc22" stroke-width="0.6" fill="none"/>
<text x="396.0" y="269.4" font-size="5.5" font-weight="bold" fill="#22dc22" stroke="#22dc22" stroke-width="0.30" text-anchor="middle">2000</text>
<text x="421.7" y="269.4" font-size="5.5" font-weight="bold" fill="#22dc22" stroke="#22dc22" stroke-width="0.30" text-anchor="middle">2000</text>
<text x="446.4" y="269.4" font-size="5.5" font-weight="bold" fill="#22dc22" stroke="#22dc22" stroke-width="0.30" text-anchor="middle">2000</text>
<text x="472.0" y="269.4" font-size="5.5" font-weight="bold" fill="#22dc22" stroke="#22dc22" stroke-width="0.30" text-anchor="middle">2000</text>
<text x="504.3" y="269.4" font-size="5.5" font-weight="bold" fill="#22dc22" stroke="#22dc22" stroke-width="0.30" text-anchor="middle">2300</text>
<text x="542.4" y="269.4" font-size="5.5" font-weight="bold" fill="#22dc22" stroke="#22dc22" stroke-width="0.30" text-anchor="middle">3300</text>
<g fill="#ffffff" opacity="0.95">
<text x="226" y="231.5" font-size="48" font-weight="bold" font-style="italic" textLength="130" lengthAdjust="spacingAndGlyphs">alps</text>
<polygon points="282.5,236 293,236 288.5,252.5 278,252.5"/>
<text x="309" y="247.5" font-size="13.8" font-weight="bold" font-style="italic" textLength="157" lengthAdjust="spacingAndGlyphs">www.alps-machine.com</text>
<g stroke="#ffffff" stroke-width="4.5" fill="none" stroke-linecap="square">
<path d="M372,201 L366,205 M359,206 H390 V221 H359 Z M364,211 L385,216 M385,211 L364,216 M374.5,206 V221 M356,226 H393 M374.5,221 L360,235 M376,226 L392,235"/>
<path d="M407,200 L399,214 M404,209 V235 M423,200 V205 M411,206 H437 M416,210 L418,216 M432,210 L430,216 M410,219 H438 M414,224 H434 V234 H414 Z"/>
<path d="M447,203 V228 M459,203 V228 M443,207 H463 M449,214 H457 M449,220 H457 M442,227 H464 M447,230 L443,235 M459,230 L463,235 M484,200 L470,205 V235 M470,214 H486 M478,214 V235"/>
</g></g>
<g fill="#0c0c0c" stroke="#0c0c0c" stroke-width="0.3" font-size="14.4">
<text x="29.8" y="388.6" textLength="156.6" lengthAdjust="spacingAndGlyphs">1.Glass bottle depalletizer</text>
<text x="197.9" y="388.6" textLength="235.9" lengthAdjust="spacingAndGlyphs">2.Beer washing filling capping machine</text>
<text x="441.2" y="388.6" textLength="89.1" lengthAdjust="spacingAndGlyphs">3.Cap elevator</text>
<text x="537.6" y="388.6" textLength="125.8" lengthAdjust="spacingAndGlyphs">4. Pasteurizer tunnel</text>
<text x="32.5" y="413.4" textLength="136.8" lengthAdjust="spacingAndGlyphs">5.CIP cleaning system</text>
<text x="176.2" y="413.4" textLength="75.5" lengthAdjust="spacingAndGlyphs">6.Blow dryer</text>
<text x="254.5" y="413.4" textLength="179.3" lengthAdjust="spacingAndGlyphs">7.Automatic labeling machine</text>
<text x="438.0" y="413.4" textLength="93.6" lengthAdjust="spacingAndGlyphs">8.Code sprayer</text>
<text x="535.7" y="413.4" textLength="182.4" lengthAdjust="spacingAndGlyphs">9. Automatic packing machine</text>
<text x="29.9" y="438.3" textLength="164.4" lengthAdjust="spacingAndGlyphs">10.Finished product Output</text>
</g>
<text x="180.6" y="297.3" font-size="8.9" fill="#e02a2a" stroke="#e02a2a" stroke-width="0.25" textLength="188" lengthAdjust="spacing">Aluminum can beer filling and packing line</text>
<text x="524.7" y="123.8" font-size="6.8" fill="#222">Crate storage area</text>
<rect x="0" y="457" width="747" height="5" fill="#114a7e"/>
<polygon points="500.7,457 747,457 747,462 509.5,462" fill="#2aaedc"/>
</svg></body></html>
